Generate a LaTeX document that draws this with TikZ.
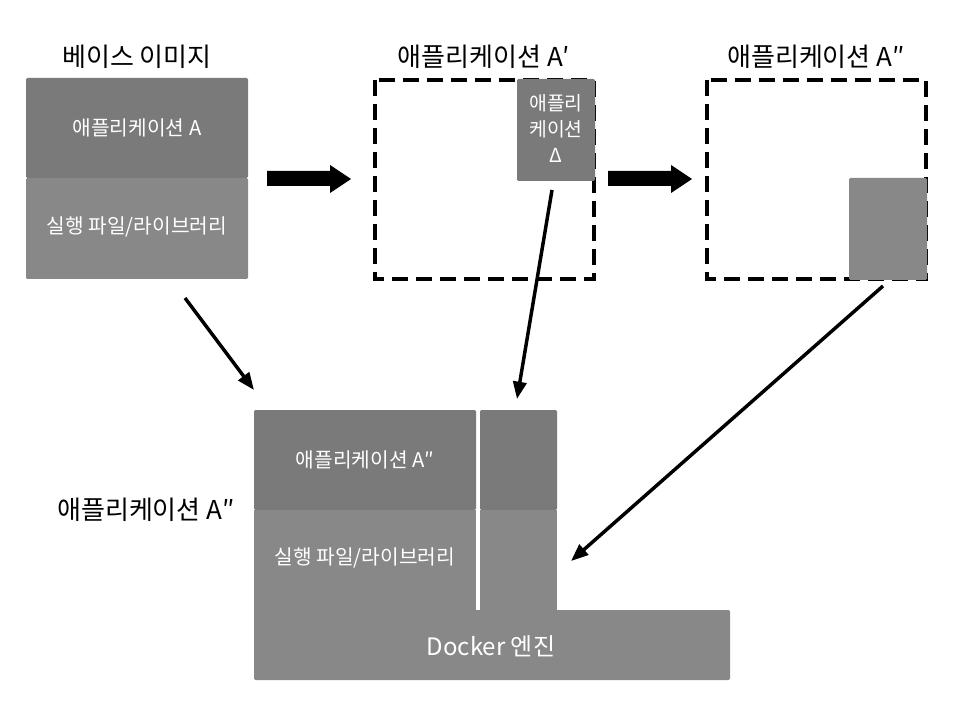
\documentclass[tikz,border=0pt]{standalone}
\usepackage{fontspec}
\setmainfont{Noto Sans CJK KR}
\usetikzlibrary{arrows.meta}
\definecolor{dark}{HTML}{7A7A7A}
\definecolor{light}{HTML}{888888}
\begin{document}
\begin{tikzpicture}[x=0.75pt,y=-0.75pt,
  blk/.style={draw=none,inner sep=0pt,text=white,rounded corners=1pt},
  head/.style={font=\fontsize{19.5}{22}\selectfont,text=black},
  intext/.style={font=\fontsize{15.2}{19.5}\selectfont,text=white,align=center},
  dinner/.style={font=\fontsize{14.5}{19.5}\selectfont,text=white,align=center},
  dbox/.style={draw=black,line width=2.6pt,dash pattern=on 12pt off 6pt},
  bigarrow/.style={fill=black,draw=none},
  thin/.style={line width=2.6pt,-{Triangle[length=13pt,width=10pt]}}]
\useasboundingbox (0,0) rectangle (960,720);
% base image
\fill[dark,rounded corners=1pt] (26,78) rectangle (248,178);
\fill[light,rounded corners=1pt] (26,178) rectangle (248,279);
\node[intext] (baseA) at (137,128) {애플리케이션 A};
\node[intext] (baseL) at (137,227) {실행 파일/라이브러리};
\node[head] (h1) at (137,57) {베이스 이미지};
% big arrows
\fill[bigarrow] (267,171) -- (330,171) -- (330,165) -- (351,179) -- (330,193) -- (330,186) -- (267,186) -- cycle;
\fill[bigarrow] (608,171) -- (671,171) -- (671,165) -- (692,179) -- (671,193) -- (671,186) -- (608,186) -- cycle;
% A'
\node[head] (h2) at (484,57) {애플리케이션 A′};
\draw[dbox] (375,80) rectangle (594,279);
\fill[dark,rounded corners=1pt] (517,79) rectangle (595,181);
\node[dinner] (delta) at (556,129) {애플리\\케이션\\Δ};
% A''
\node[head] (h3) at (816,57) {애플리케이션 A″};
\draw[dbox] (707,80) rectangle (926,279);
\fill[light,rounded corners=1pt] (849,178) rectangle (927,280);
% bottom
\fill[dark,rounded corners=1pt] (254,410) rectangle (476,510);
\fill[light] (254,510) rectangle (476,612);
\fill[dark,rounded corners=1pt] (480,410) rectangle (557,510);
\fill[light] (480,510) rectangle (557,612);
\fill[light,rounded corners=1pt] (254,610) rectangle (730,680);
\node[intext] (bA) at (365,460) {애플리케이션 A″};
\node[intext] (bL) at (365,558) {실행 파일/라이브러리};
\node[font=\fontsize{18}{22}\selectfont,text=white] (docker) at (491,646) {Docker 엔진};
\node[head] (lab) at (146,510) {애플리케이션 A″};
% arrows
\coordinate (s1) at (185,298);
\coordinate (e1) at (254,390);
\coordinate (s2) at (552,190);
\coordinate (e2) at (517,399);
\coordinate (s3) at (883,286);
\coordinate (e3) at (571,561);
\draw[thin] (s1) -- (e1);
\draw[thin] (s2) -- (e2);
\draw[thin] (s3) -- (e3);
\end{tikzpicture}
\end{document}
